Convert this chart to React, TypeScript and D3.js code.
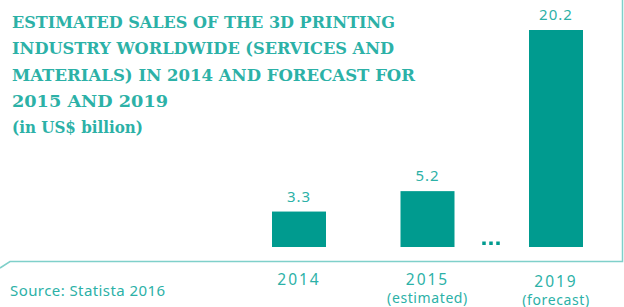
import { useEffect } from "react";
import * as d3 from "d3";

const width = 624;
const height = 307;

// data
const years = ["2014", "2015", "2019"];
const notes = ["", "(estimated)", "(forecast)"];
const sales = [3.3, 5.2, 20.2];
const titleLines = [
  "ESTIMATED SALES OF THE 3D PRINTING",
  "INDUSTRY WORLDWIDE (SERVICES AND",
  "MATERIALS) IN 2014 AND FORECAST FOR",
  "2015 AND 2019",
];
const subtitle = "(in US$ billion)";
const source = "Source: Statista 2016";

const barColor = "#009b8f";
const textColor = "#2cb1a7";
const lineColor = "#7fd0ca";

const baseY = 247;
const barWidth = 54;
const titleWidths = [383, 382, 403, 156];

const App = () => {
  useEffect(() => {
    document.body.style.margin = "0";
  }, []);

  const xScale = d3.scalePoint<string>().domain(years).range([299, 556]);
  const yScale = d3.scaleLinear().domain([0, 20.2]).range([baseY, 30]);

  const dotsX = ((xScale("2015") ?? 0) + (xScale("2019") ?? 0)) / 2 - 1;

  return (
    <svg width={width} height={height} style={{ display: "block" }}>
      {/* frame */}
      <path
        d={`M0,268 L10,261.5 L622.5,261.5 L622.5,0`}
        fill="none"
        stroke={lineColor}
        strokeWidth={1.5}
      />

      {/* title */}
      <g fill={textColor} fontFamily="'DejaVu Serif Condensed', 'DejaVu Serif', serif" fontWeight="bold">
        {titleLines.map((t, i) => (
          <text
            key={t}
            x={12}
            y={28 + i * 26.3}
            fontSize={17}
            textLength={titleWidths[i]}
            lengthAdjust="spacingAndGlyphs"
          >
            {t}
          </text>
        ))}
        <text x={12} y={133} fontSize={17} textLength={131} lengthAdjust="spacingAndGlyphs">
          {subtitle}
        </text>
      </g>

      {/* bars */}
      <g>
        {years.map((y, i) => (
          <rect
            key={y}
            x={(xScale(y) ?? 0) - barWidth / 2}
            y={yScale(sales[i])}
            width={barWidth}
            height={baseY - yScale(sales[i])}
            fill={barColor}
          />
        ))}
      </g>

      {/* value labels */}
      <g fill={textColor} fontFamily="'Noto Sans', sans-serif" fontSize={15} textAnchor="middle" letterSpacing={1}>
        {years.map((y, i) => (
          <text key={y} x={xScale(y)} y={yScale(sales[i]) - 10}>
            {sales[i].toFixed(1)}
          </text>
        ))}
      </g>

      {/* ellipsis */}
      <g fill={barColor}>
        {[-7, 0, 7].map((dx) => (
          <rect key={dx} x={dotsX + dx - 1.5} y={241.5} width={3.5} height={3.5} />
        ))}
      </g>

      {/* x labels */}
      <g fill={textColor} fontFamily="'Noto Sans', sans-serif" textAnchor="middle">
        {years.map((y, i) => (
          <g key={y}>
            <text x={xScale(y)} y={i === 2 ? 286.5 : 284.5} fontSize={15.5} letterSpacing={2}>
              {y}
            </text>
            {notes[i] && (
              <text x={xScale(y)} y={i === 2 ? 305 : 302.5} fontSize={14} letterSpacing={0.6}>
                {notes[i]}
              </text>
            )}
          </g>
        ))}
      </g>

      {/* source */}
      <text
        x={10}
        y={295.5}
        fill={textColor}
        fontFamily="'Noto Sans', sans-serif"
        fontSize={15}
        textLength={155}
        lengthAdjust="spacing"
      >
        {source}
      </text>
    </svg>
  );
};

export default App;
